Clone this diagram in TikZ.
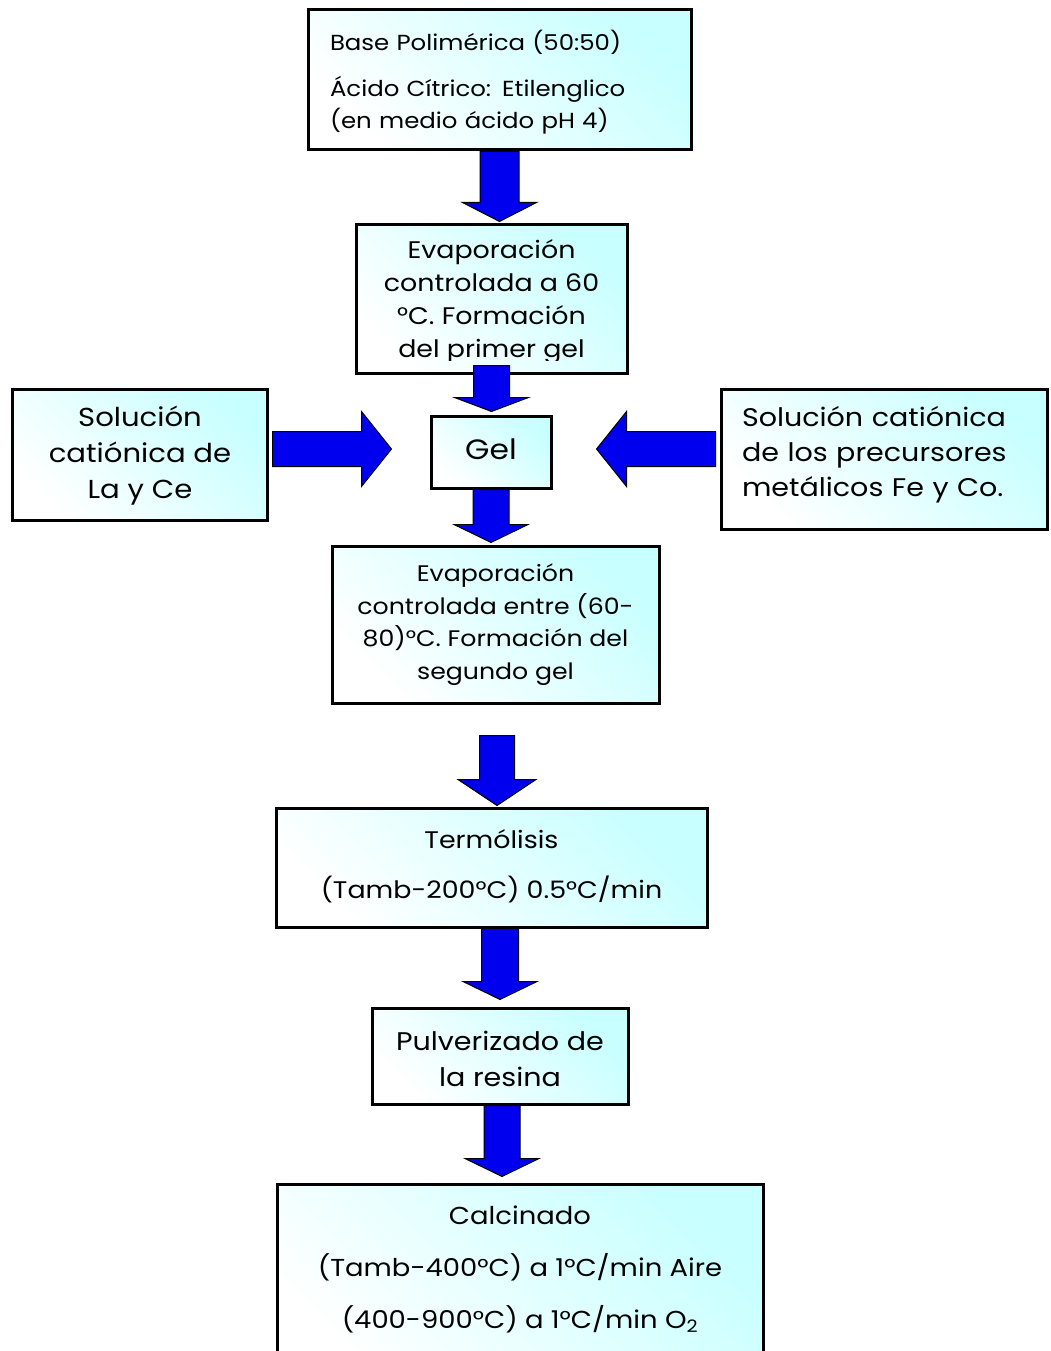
\documentclass[tikz,border=0pt]{standalone}
\usepackage{fontspec}
\setmainfont{Poppins}[FakeStretch=1.12]
\usetikzlibrary{calc}
\definecolor{boxcyan}{RGB}{200,255,255}
\definecolor{arrowblue}{RGB}{0,0,238}
\tikzset{
  stepbox/.style={draw=black, line width=3pt, top color=boxcyan, bottom color=white,
    shading angle=-45, inner sep=0pt},
  flowarrow/.style={fill=arrowblue, draw=black, line width=1pt, line join=miter},
  boxtext/.style={font=\fontsize{24}{33}\selectfont, align=center, inner sep=0pt},
}
% block arrow: tail, tip, shaft half-width, head half-width, head length
\newcommand\blockarr[5]{%
  \coordinate (ahead) at ($(#2)!#5!(#1)$);
  \draw[flowarrow] ($(#1)!#3!90:(#2)$) -- ($(ahead)!#3!90:(#2)$)
    -- ($(ahead)!#4!90:(#2)$) -- (#2) -- ($(ahead)!#4!-90:(#2)$)
    -- ($(ahead)!#3!-90:(#2)$) -- ($(#1)!#3!-90:(#2)$) -- cycle;
}
\begin{document}
\begin{tikzpicture}[x=1pt,y=-1pt]
\useasboundingbox (0,0) rectangle (1050,1351);
\clip (0,0) rectangle (1050,1351);
\fill[white] (0,0) rectangle (1050,1351);

% polymer base
\node[stepbox, minimum width=383pt, minimum height=140pt] (base) at (499.5,80) {};
\node[boxtext, align=left, text width=339pt, font=\fontsize{21.8}{32}\selectfont]
  (basetext) at (499.5,82) {Base Polimérica (50:50)\\[14pt]
  Ácido Cítrico: Etilenglico\\(en medio ácido pH 4)};

% first evaporation (text cut by the box margin)
\node[stepbox, minimum width=271pt, minimum height=149pt] (evapA) at (491.5,298.5) {};
\begin{scope}
  \clip ($(evapA.north west)+(3,3)$) rectangle ($(evapA.south east)+(-3,-14)$);
  \node[boxtext] (evapAtext) at (491.5,302) {Evaporación\\controlada a 60\\°C. Formación\\del primer gel};
\end{scope}

% gel
\node[stepbox, minimum width=120pt, minimum height=72pt] (gel) at (491,452) {};
\node[boxtext, font=\fontsize{28}{33}\selectfont] (geltext) at (491,449) {Gel};

% side solutions
\node[stepbox, minimum width=255pt, minimum height=131pt] (lace) at (139.5,454.5) {};
\node[boxtext, font=\fontsize{26}{36}\selectfont] (lacetext) at (140,456)
  {Solución\\catiónica de\\La y Ce};
\node[stepbox, minimum width=326pt, minimum height=140pt] (feco) at (884,459) {};
\node[boxtext, align=left, font=\fontsize{25.5}{35}\selectfont, text width=300pt]
  (fecotext) at (892,455) {Solución catiónica\\de los precursores\\metálicos Fe y Co.};

% second evaporation
\node[stepbox, minimum width=327pt, minimum height=157pt] (evapB) at (495.5,624.5) {};
\node[boxtext, font=\fontsize{22.5}{32.5}\selectfont] (evapBtext) at (495.5,624.5)
  {Evaporación\\controlada entre (60-\\80)°C. Formación del\\segundo gel};

% thermolysis
\node[stepbox, minimum width=431pt, minimum height=119pt] (termo) at (491.5,867.5) {};
\node[boxtext, font=\fontsize{24}{50}\selectfont] (termotext) at (491.5,866)
  {Termólisis\\(Tamb-200°C) 0.5°C/min};

% grinding
\node[stepbox, minimum width=256pt, minimum height=96pt] (pulv) at (500,1056) {};
\node[boxtext, font=\fontsize{25.5}{36}\selectfont] (pulvtext) at (500,1059)
  {Pulverizado de\\la resina};

% calcination
\node[stepbox, minimum width=486pt, minimum height=200pt] (calc) at (520,1284) {};
\node[boxtext, font=\fontsize{24.5}{52}\selectfont] (calctext) at (520,1269)
  {Calcinado\\(Tamb-400°C) a 1°C/min Aire\\(400-900°C) a 1°C/min O\textsubscript{2}};

% connecting block arrows
\coordinate (a1t) at (base.south);
\coordinate (a1h) at ($(a1t |- evapA.north)+(0,-1)$);
\blockarr{a1t}{a1h}{19.5pt}{37pt}{19pt}

\coordinate (a2t) at ($(evapA.south)+(0,-9)$);
\coordinate (a2h) at ($(a2t |- gel.north)+(0,-3)$);
\blockarr{a2t}{a2h}{18pt}{37pt}{14pt}

\coordinate (a3t) at (gel.south);
\coordinate (a3h) at ($(a3t |- evapB.north)+(0,-2)$);
\blockarr{a3t}{a3h}{18pt}{37pt}{18pt}

\coordinate (a4t) at ($(evapB.south)+(1.5,31)$);
\coordinate (a4h) at ($(a4t |- termo.north)+(0,-1)$);
\blockarr{a4t}{a4h}{17.5pt}{39pt}{26pt}

\coordinate (a5t) at ($(termo.south)+(8.5,0)$);
\coordinate (a5h) at ($(a5t |- pulv.north)+(0,-7)$);
\blockarr{a5t}{a5h}{18.5pt}{37pt}{18pt}

\coordinate (a6t) at ($(pulv.south)+(2,0)$);
\coordinate (a6h) at ($(a6t |- calc.north)+(0,-6)$);
\blockarr{a6t}{a6h}{18pt}{37pt}{18pt}

\coordinate (alt) at ($(lace.east)+(4,-5.5)$);
\coordinate (alh) at ($(alt -| gel.west)+(-38,0)$);
\blockarr{alt}{alh}{17.5pt}{37.5pt}{30pt}

\coordinate (art) at ($(feco.west)+(-4,-10)$);
\coordinate (arh) at ($(art -| gel.east)+(44,0)$);
\blockarr{art}{arh}{17.5pt}{37.5pt}{30pt}
\end{tikzpicture}
\end{document}
